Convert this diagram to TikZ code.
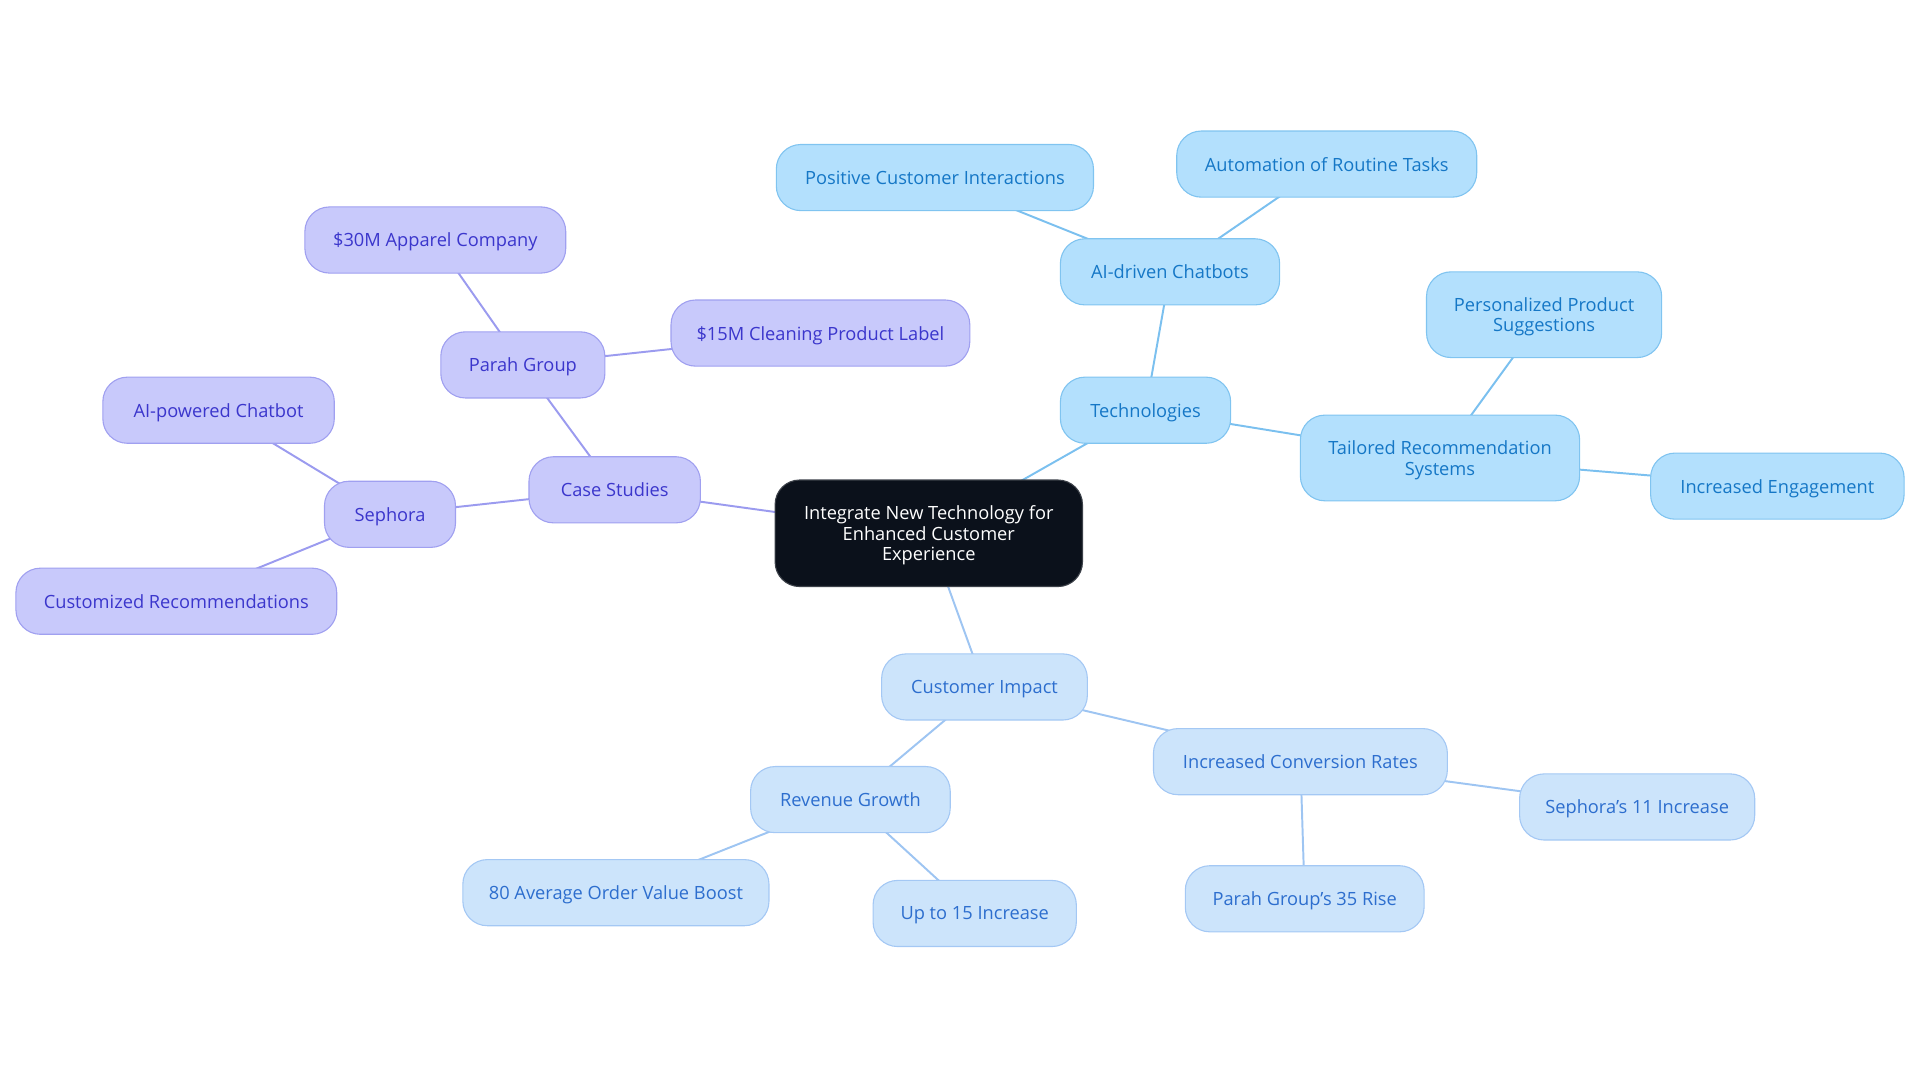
\documentclass[tikz,border=0pt]{standalone}
\usepackage{fontspec}
\setmainfont{Open Sans}
\usetikzlibrary{backgrounds}
\definecolor{csfill}{HTML}{C8C9FB}
\definecolor{csdraw}{HTML}{A0A0F0}
\definecolor{cstext}{HTML}{3B36CC}
\definecolor{csline}{HTML}{9B9BEF}
\definecolor{tefill}{HTML}{B3E0FD}
\definecolor{tedraw}{HTML}{80C4F0}
\definecolor{tetext}{HTML}{1577C6}
\definecolor{teline}{HTML}{7BC0EF}
\definecolor{cifill}{HTML}{CCE4FB}
\definecolor{cidraw}{HTML}{A4C8F4}
\definecolor{citext}{HTML}{2D6ECE}
\definecolor{ciline}{HTML}{9EC5F2}
\definecolor{rootfill}{HTML}{0B111B}
\tikzset{
  base/.style={rounded corners=20pt, line width=0.9pt, minimum height=54pt, inner sep=0pt, align=center, text depth=0pt, font=\fontsize{14.9}{16.6}\selectfont},
  csnode/.style={base, fill=csfill, draw=csdraw, text=cstext},
  tenode/.style={base, fill=tefill, draw=tedraw, text=tetext},
  cinode/.style={base, fill=cifill, draw=cidraw, text=citext},
  rootnode/.style={base, fill=rootfill, draw=rootfill!80!white, text=white},
  csedge/.style={draw=csline, line width=1.6pt},
  teedge/.style={draw=teline, line width=1.6pt},
  ciedge/.style={draw=ciline, line width=1.6pt},
}
\begin{document}
\begin{tikzpicture}[x=1pt,y=-1pt]
\useasboundingbox (0,0) rectangle (1568,884);
\node[rootnode, minimum width=251pt, minimum height=87pt] (root) at (758.5,435.5) {Integrate New Technology for\\Enhanced Customer\\Experience};
% Case studies branch
\node[csnode, minimum width=140pt] (cs) at (502,400) {Case Studies};
\node[csnode, minimum width=134pt] (parah) at (427,298) {Parah Group};
\node[csnode, minimum width=213pt] (app) at (355.5,196) {\$30M Apparel Company};
\node[csnode, minimum width=244pt] (clean) at (670,272) {\$15M Cleaning Product Label};
\node[csnode, minimum width=107pt] (seph) at (318.5,420) {Sephora};
\node[csnode, minimum width=189pt] (aibot) at (178.5,335) {AI-powered Chatbot};
\node[csnode, minimum width=262pt] (custrec) at (144,491) {Customized Recommendations};
% Technologies branch
\node[tenode, minimum width=139pt] (tech) at (935.5,335) {Technologies};
\node[tenode, minimum width=179pt] (chat) at (955.5,222) {AI-driven Chatbots};
\node[tenode, minimum width=259pt] (pos) at (763.5,145) {Positive Customer Interactions};
\node[tenode, minimum width=245pt] (auto) at (1083.5,134) {Automation of Routine Tasks};
\node[tenode, minimum width=228pt, minimum height=70pt] (tail) at (1176,374) {Tailored Recommendation\\Systems};
\node[tenode, minimum width=192pt, minimum height=70pt] (pers) at (1261,257) {Personalized Product\\Suggestions};
\node[tenode, minimum width=207pt] (eng) at (1451.5,397) {Increased Engagement};
% Customer impact branch
\node[cinode, minimum width=168pt] (ci) at (804,561) {Customer Impact};
\node[cinode, minimum width=240pt] (conv) at (1062,622) {Increased Conversion Rates};
\node[cinode, minimum width=192pt] (seph11) at (1337,659) {Sephora's 11 Increase};
\node[cinode, minimum width=195pt] (parah35) at (1065.5,734) {Parah Group's 35 Rise};
\node[cinode, minimum width=163pt] (rev) at (694.5,653) {Revenue Growth};
\node[cinode, minimum width=250pt] (aov) at (503,729) {80 Average Order Value Boost};
\node[cinode, minimum width=166pt] (up15) at (796,746) {Up to 15 Increase};
\begin{pgfonlayer}{background}
\draw[csedge] (root.center) -- (cs.center);
\draw[csedge] (cs.center) -- (parah.center);
\draw[csedge] (parah.center) -- (app.center);
\draw[csedge] (parah.center) -- (clean.center);
\draw[csedge] (cs.center) -- (seph.center);
\draw[csedge] (seph.center) -- (aibot.center);
\draw[csedge] (seph.center) -- (custrec.center);
\draw[teedge] (root.center) -- (tech.center);
\draw[teedge] (tech.center) -- (chat.center);
\draw[teedge] (chat.center) -- (pos.center);
\draw[teedge] (chat.center) -- (auto.center);
\draw[teedge] (tech.center) -- (tail.center);
\draw[teedge] (tail.center) -- (pers.center);
\draw[teedge] (tail.center) -- (eng.center);
\draw[ciedge] (root.center) -- (ci.center);
\draw[ciedge] (ci.center) -- (conv.center);
\draw[ciedge] (conv.center) -- (seph11.center);
\draw[ciedge] (conv.center) -- (parah35.center);
\draw[ciedge] (ci.center) -- (rev.center);
\draw[ciedge] (rev.center) -- (aov.center);
\draw[ciedge] (rev.center) -- (up15.center);
\end{pgfonlayer}
\end{tikzpicture}
\end{document}
